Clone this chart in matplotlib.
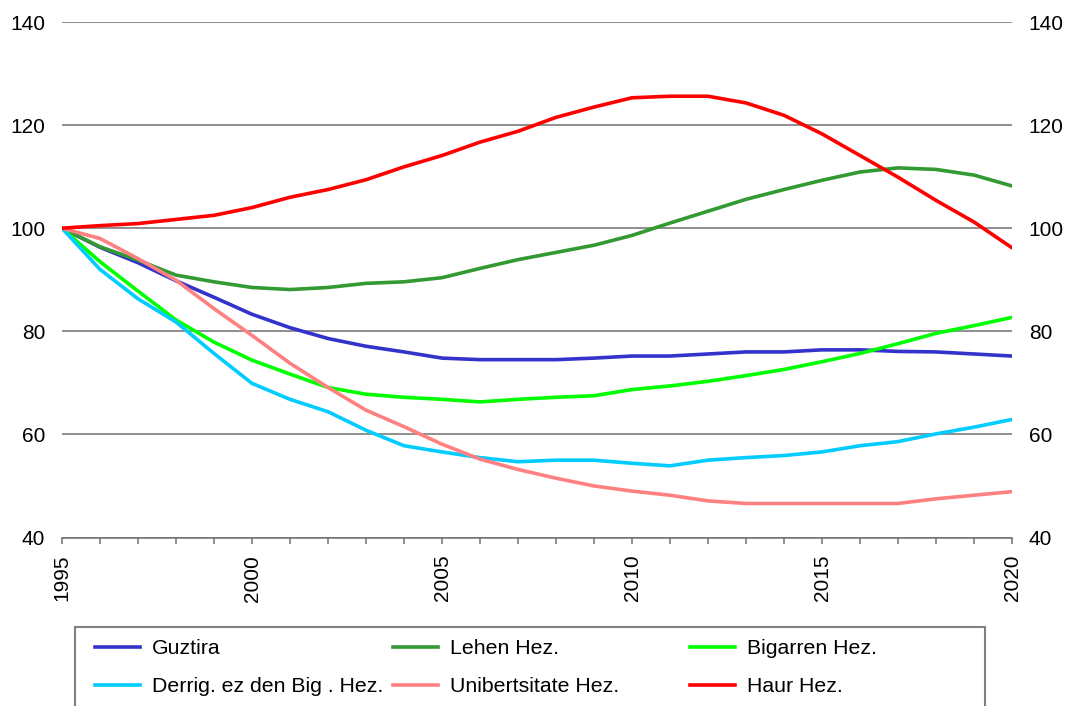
import matplotlib.pyplot as plt
import numpy as np
from matplotlib.lines import Line2D
from matplotlib.patches import Rectangle

plt.rcParams['font.family'] = ['Liberation Sans', 'DejaVu Sans']

years = np.arange(1995, 2021)

guztira = [100, 96.3, 93.3, 89.8, 86.6, 83.3, 80.7, 78.6, 77.1, 76.0, 74.8, 74.5, 74.5,
           74.5, 74.8, 75.2, 75.2, 75.6, 76.0, 76.0, 76.4, 76.4, 76.1, 76.0, 75.6, 75.2]
lehen = [100, 96.4, 93.8, 90.9, 89.6, 88.5, 88.1, 88.5, 89.3, 89.6, 90.4, 92.2, 93.9,
         95.3, 96.7, 98.6, 101.0, 103.3, 105.6, 107.5, 109.3, 110.9, 111.7, 111.4, 110.3, 108.2]
bigarren = [100, 93.5, 87.8, 82.2, 77.9, 74.4, 71.7, 69.1, 67.8, 67.2, 66.8, 66.3, 66.8,
            67.2, 67.5, 68.7, 69.4, 70.3, 71.4, 72.6, 74.1, 75.7, 77.6, 79.6, 81.1, 82.7]
derrig = [100, 92.0, 86.3, 81.8, 75.7, 69.9, 66.8, 64.4, 60.8, 57.8, 56.6, 55.5, 54.7,
          55.0, 55.0, 54.4, 53.9, 55.0, 55.5, 55.9, 56.6, 57.8, 58.6, 60.1, 61.4, 62.9]
unibertsitate = [100, 98.0, 94.1, 89.9, 84.4, 79.2, 73.8, 69.1, 64.7, 61.5, 58.1, 55.2, 53.2,
                 51.5, 50.0, 49.0, 48.2, 47.1, 46.6, 46.6, 46.6, 46.6, 46.6, 47.5, 48.2, 48.9]
haur = [100, 100.5, 100.9, 101.7, 102.5, 104.0, 106.0, 107.5, 109.4, 111.9, 114.1, 116.7, 118.8,
        121.5, 123.5, 125.3, 125.6, 125.6, 124.3, 121.9, 118.3, 114.1, 109.9, 105.4, 101.2, 96.2]

series = [
    ('Guztira', guztira, '#3333CC'),
    ('Lehen Hez.', lehen, '#339933'),
    ('Bigarren Hez.', bigarren, '#00FF00'),
    ('Derrig. ez den Big . Hez.', derrig, '#00CCFF'),
    ('Unibertsitate Hez.', unibertsitate, '#FF8080'),
    ('Haur Hez.', haur, '#FF0000'),
]

W, H = 1069, 706
fig = plt.figure(figsize=(W / 100, H / 100), dpi=100)
ax = fig.add_axes([62 / W, 1 - 537.5 / H, 950 / W, 515.5 / H])

for name, vals, col in series:
    ax.plot(years, vals, color=col, lw=2.6, label=name, solid_capstyle='round')

grid_col = '#707070'
ax.set_xlim(1995, 2020)
ax.set_ylim(40, 140)
ax.set_yticks(np.arange(40, 141, 20))
ax.yaxis.grid(True, color=grid_col, lw=1.1)
ax.set_axisbelow(True)
ax.tick_params(axis='y', length=0, labelleft=True, labelright=True, pad=12, labelsize=15)

ax.set_xticks(years)
ax.set_xticklabels([str(y) if y % 5 == 0 else '' for y in years], rotation=90)
ax.tick_params(axis='x', direction='out', length=4.5, width=1.1, color=grid_col, pad=8, labelsize=15)

for s in ['left', 'right', 'top']:
    ax.spines[s].set_visible(False)
ax.spines['bottom'].set_color(grid_col)
ax.spines['bottom'].set_linewidth(1.1)

# legend frame running off the bottom of the picture
fig.patches.append(Rectangle((75 / W, -0.05), 910 / W, 0.05 + (H - 627) / H,
                             transform=fig.transFigure, facecolor='white',
                             edgecolor='#808080', lw=1.5, zorder=0))

cols = [(95, [0, 3]), (393, [1, 4]), (690, [2, 5])]
for x, idx in cols:
    hs = [Line2D([], [], color=series[i][2], lw=2.6) for i in idx]
    fig.legend(handles=hs, labels=[series[i][0] for i in idx], loc='upper left',
               bbox_to_anchor=(x / W, 1 - 639 / H), frameon=False, fontsize=15.3,
               borderpad=0, borderaxespad=0, handlelength=2.12, handletextpad=0.55,
               labelspacing=0.9)

plt.savefig('out.png', dpi=100)
